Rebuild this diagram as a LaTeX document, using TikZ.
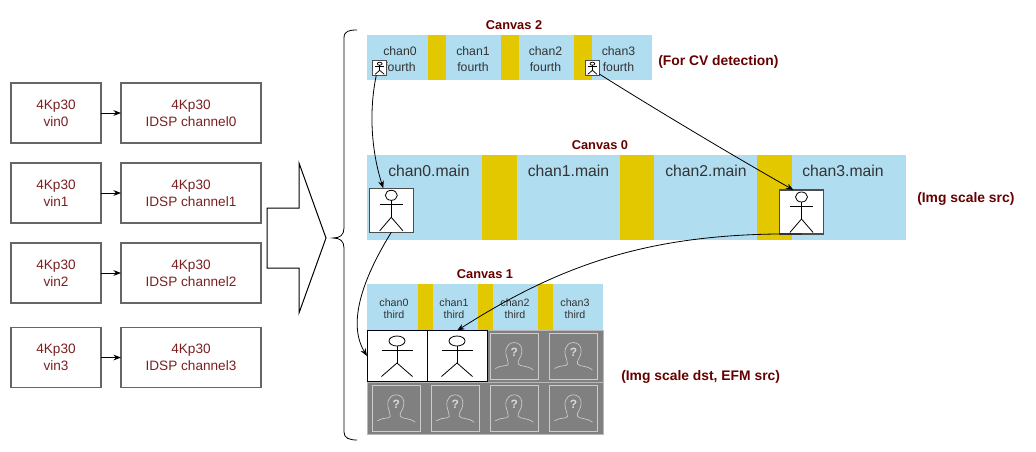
\documentclass[tikz,border=0pt]{standalone}
\usepackage{fontspec}
\setmainfont{Liberation Sans}
\usepackage{xcolor}
\usetikzlibrary{arrows.meta,positioning}
\definecolor{boxtext}{HTML}{7A2020}
\definecolor{capred}{HTML}{660000}
\definecolor{bandblue}{HTML}{B1DDF0}
\definecolor{bandgold}{HTML}{E3C800}
\definecolor{tilegray}{HTML}{808080}
\definecolor{bandtext}{HTML}{333333}

\begin{document}
\begin{tikzpicture}[
  x=0.75pt, y=-0.75pt,
  >=Stealth,
  node distance=15pt and 15pt,
  block/.style={rectangle, draw=black!60, line width=1.1pt, outer sep=0pt, align=center, minimum height=45pt, text=boxtext, font=\fontsize{10.2pt}{13pt}\selectfont},
  vinbox/.style={block, minimum width=67.5pt},
  idspbox/.style={block, minimum width=105pt},
  band/.style={rectangle, fill=bandblue, outer sep=0pt, inner sep=0pt},
  bar/.style={rectangle, fill=bandgold, outer sep=0pt, inner sep=0pt},
  caplabel/.style={font=\bfseries\fontsize{9.6pt}{11pt}\selectfont, text=capred},
  notelabel/.style={font=\bfseries\fontsize{10.4pt}{12pt}\selectfont, text=capred, inner sep=0pt, anchor=west},
  chantext/.style={align=center, text=bandtext, inner sep=0pt},
  tile/.style={rectangle, fill=tilegray, draw=black!28, line width=.5pt, outer sep=0pt, inner sep=0pt},
  whitebox/.style={rectangle, fill=white, draw=black!70, line width=.9pt, outer sep=0pt, inner sep=0pt},
  facebox/.style={rectangle, draw=black!20, line width=.6pt, outer sep=0pt, inner sep=0pt, minimum width=36.4pt, minimum height=34.4pt},
  line/.style={->, line width=.6pt},
  actor/.pic={
    \draw (0,-15) ellipse (8 and 5);
    \draw (-15.5,-6) -- (15.5,-6);
    \draw (0,-10) -- (0,7);
    \draw (-15.5,20.5) -- (0,7) -- (15.5,20.5);
  },
  face/.pic={
    \draw[black!20, line width=.5pt] (-19,12.5) .. controls (-13,8.5) and (-7,11) .. (-6,8)
      .. controls (-6,6) and (-6.5,5) .. (-7,3) .. controls (-10,-4) and (-9,-13) .. (0,-13.5)
      .. controls (9,-13) and (9,-3) .. (5,3) .. controls (4,5) and (3.5,6) .. (4,8)
      .. controls (6,11) and (13,9) .. (19,14);
    \node[text=black!15, font=\bfseries\fontsize{9pt}{9pt}\selectfont, inner sep=0pt] at (0,-3.5) {?};
  }
]
\useasboundingbox (0,0) rectangle (1036,451);

% Inputs (left column)
\node[vinbox] (vin0) at (56,113) {4Kp30\\vin0};
\node[vinbox, below=of vin0] (vin1) {4Kp30\\vin1};
\node[vinbox, below=of vin1] (vin2) {4Kp30\\vin2};
\node[vinbox, below=18.4pt of vin2] (vin3) {4Kp30\\vin3};
\node[idspbox, right=of vin0] (idsp0) {4Kp30\\IDSP channel0};
\node[idspbox, right=of vin1] (idsp1) {4Kp30\\IDSP channel1};
\node[idspbox, right=of vin2] (idsp2) {4Kp30\\IDSP channel2};
\node[idspbox, right=of vin3] (idsp3) {4Kp30\\IDSP channel3};

% Block arrow and brace
\draw[line width=.75pt, line join=miter] (267,208) -- (299,208) -- (299,163) -- (326,238) -- (299,313) -- (299,268) -- (267,268) -- cycle;
\draw[line width=.6pt] (357,30) .. controls (349,30) and (344,31) .. (344,38) -- (344,228)
  .. controls (344,235) and (340,238) .. (333,238) .. controls (340,238) and (344,241) .. (344,248)
  -- (344,432) .. controls (344,438) and (349,440) .. (357,440);

% Canvas 2
\node[band, minimum width=213.75pt, minimum height=34pt, anchor=north west] (canvas2) at (367,35) {};
\node[bar, minimum width=13.5pt, minimum height=34pt] (c2bar0) at (437,57.7) {};
\node[bar, minimum width=13.5pt, minimum height=34pt] (c2bar1) at (510,57.7) {};
\node[bar, minimum width=13.5pt, minimum height=34pt] (c2bar2) at (583,57.7) {};
\node[chantext, font=\fontsize{9.2pt}{12pt}\selectfont] (c2chan0) at (400,59) {chan0\\fourth};
\node[chantext, font=\fontsize{9.2pt}{12pt}\selectfont] (c2chan1) at (473,59) {chan1\\fourth};
\node[chantext, font=\fontsize{9.2pt}{12pt}\selectfont] (c2chan2) at (545.5,59) {chan2\\fourth};
\node[chantext, font=\fontsize{9.2pt}{12pt}\selectfont] (c2chan3) at (618.5,59) {chan3\\fourth};
\node[caplabel, above=.3pt of canvas2, xshift=3.4pt] (cap2) {Canvas 2};
\node[notelabel] (note2) at (658,62) {(For CV detection)};
\node[whitebox, minimum width=10.5pt, minimum height=11.2pt, line width=.6pt] (smalla) at (379.7,68.2) {};
\node[whitebox, minimum width=10.5pt, minimum height=11.2pt, line width=.6pt] (smallb) at (592.4,68.2) {};
\pic[xscale=.3, yscale=.3, line width=.55pt] at (smalla) {actor};
\pic[xscale=.3, yscale=.3, line width=.55pt] at (smallb) {actor};

% Canvas 0
\node[band, minimum width=404.25pt, minimum height=64pt, anchor=north west] (canvas0) at (367,155) {};
\node[bar, minimum width=26pt, minimum height=64pt] (c0bar0) at (499.5,197.7) {};
\node[bar, minimum width=26pt, minimum height=64pt] (c0bar1) at (637,197.7) {};
\node[bar, minimum width=26pt, minimum height=64pt] (c0bar2) at (774.5,197.7) {};
\node[chantext, font=\fontsize{11.8pt}{13pt}\selectfont] (c0chan0) at (429,171) {chan0.main};
\node[chantext, font=\fontsize{11.8pt}{13pt}\selectfont] (c0chan1) at (568.5,171) {chan1.main};
\node[chantext, font=\fontsize{11.8pt}{13pt}\selectfont] (c0chan2) at (706,171) {chan2.main};
\node[chantext, font=\fontsize{11.8pt}{13pt}\selectfont] (c0chan3) at (843,171) {chan3.main};
\node[caplabel, above=.3pt of canvas0, xshift=-27.4pt] (cap0) {Canvas 0};
\node[notelabel] (note0) at (917,199) {(Img scale src)};
\node[whitebox, minimum width=33pt, minimum height=33pt] (maina) at (391.3,210.3) {};
\node[whitebox, minimum width=33pt, minimum height=33pt] (mainb) at (801.5,212) {};
\pic[xscale=.75, line width=.6pt] at (maina) {actor};
\pic[xscale=.75, line width=.6pt] at (mainb) {actor};

% Canvas 1
\node[band, minimum width=177pt, minimum height=34.5pt, anchor=north west] (canvas1) at (367,284) {};
\node[bar, minimum width=11.2pt, minimum height=34.5pt] (c1bar0) at (425.2,307) {};
\node[bar, minimum width=11.2pt, minimum height=34.5pt] (c1bar1) at (485.5,307) {};
\node[bar, minimum width=11.2pt, minimum height=34.5pt] (c1bar2) at (545.5,307) {};
\node[chantext, font=\fontsize{8pt}{9pt}\selectfont] (c1chan0) at (394,308.5) {chan0\\third};
\node[chantext, font=\fontsize{8pt}{9pt}\selectfont] (c1chan1) at (454,308.5) {chan1\\third};
\node[chantext, font=\fontsize{8pt}{9pt}\selectfont] (c1chan2) at (515,308.5) {chan2\\third};
\node[chantext, font=\fontsize{8pt}{9pt}\selectfont] (c1chan3) at (575,308.5) {chan3\\third};
\node[caplabel, above=.3pt of canvas1] (cap1) {Canvas 1};
\node[notelabel] (note1) at (621,377) {(Img scale dst, EFM src)};

% Tiles under canvas 1
\node[tile, minimum width=177pt, minimum height=39pt, anchor=north west] (row0) at (367,330) {};
\node[tile, minimum width=177pt, minimum height=39pt, anchor=north west] (row1) at (367,382) {};
\node[whitebox, draw=black!90!blue, line width=.6pt, minimum width=45pt, minimum height=38pt] (whitea) at (397,356) {};
\node[whitebox, draw=black!90!blue, line width=.6pt, minimum width=45pt, minimum height=38pt] (whiteb) at (457,356) {};
\pic[line width=.6pt] at (whitea) {actor};
\pic[line width=.6pt] at (whiteb) {actor};
\node[facebox] (face02) at (514.3,356) {};
\node[facebox] (face03) at (573.5,356) {};
\node[facebox] (face10) at (396.3,408.3) {};
\node[facebox] (face11) at (455.3,408.3) {};
\node[facebox] (face12) at (514.3,408.3) {};
\node[facebox] (face13) at (573.5,408.3) {};
\pic at (face02) {face};
\pic at (face03) {face};
\pic at (face10) {face};
\pic at (face11) {face};
\pic at (face12) {face};
\pic at (face13) {face};

% Arrows
\draw[line] (vin0) -- (idsp0);
\draw[line] (vin1) -- (idsp1);
\draw[line] (vin2) -- (idsp2);
\draw[line] (vin3) -- (idsp3);
\draw[line] (smalla.-115) .. controls (369,110) and (371,150) .. (maina.110);
\draw[line] (smallb.-40) .. controls (650,106) and (730,154) .. (mainb.110);
\draw[line] (maina.south) .. controls (368,270) and (345,320) .. (whitea.west);
\draw[line] (mainb.south) .. controls (650,232) and (560,265) .. (whiteb.north);
\end{tikzpicture}
\end{document}
